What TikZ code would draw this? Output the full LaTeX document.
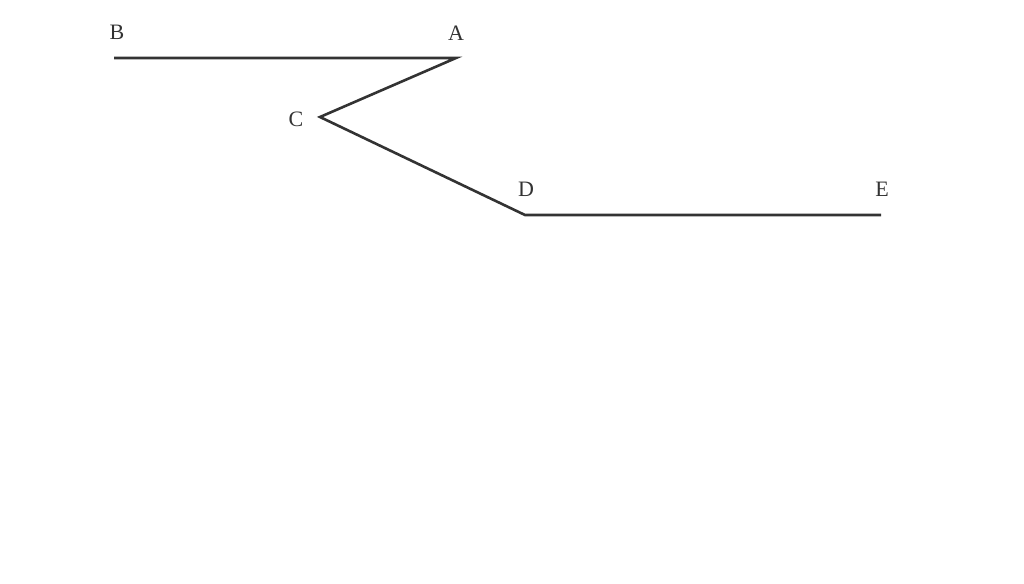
\documentclass[tikz,border=0pt]{standalone}
\usepackage{fontspec}
\setmainfont{Liberation Serif}
\begin{document}
\begin{tikzpicture}[x=1pt,y=-1pt,
  seg/.style={line width=2.6pt,draw=black!80,line join=miter},
  lbl/.style={font=\fontsize{22}{22}\selectfont,text=black!80,inner sep=0pt}]
\useasboundingbox (0,0) rectangle (1024,583);
\coordinate (B) at (114,58);
\coordinate (A) at (456,58);
\coordinate (C) at (320,117);
\coordinate (D) at (525,215);
\coordinate (E) at (881,215);
\draw[seg] (B) -- (A) -- (C) -- (D) -- (E);
\node[lbl] (lB) at (117,32) {B};
\node[lbl] (lA) at (456,33) {A};
\node[lbl] (lC) at (296,119) {C};
\node[lbl] (lD) at (526,189) {D};
\node[lbl] (lE) at (882,189) {E};
\end{tikzpicture}
\end{document}
